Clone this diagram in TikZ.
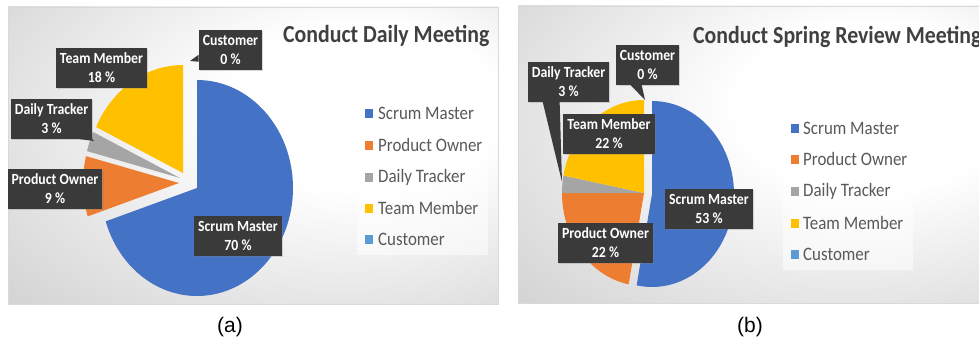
\documentclass[tikz,border=0pt]{standalone}
\usepackage{fontspec}
\setmainfont{Carlito}[FakeStretch=0.89]
\newfontfamily\captionfont{Liberation Sans}
\usetikzlibrary{shadows}

\definecolor{smblue}{HTML}{4472C4}
\definecolor{poorange}{HTML}{ED7D31}
\definecolor{dtgray}{HTML}{A5A5A5}
\definecolor{tmgold}{HTML}{FFC000}
\definecolor{cublue}{HTML}{5B9BD5}
\definecolor{labelfill}{HTML}{3A3A3A}
\definecolor{titlegray}{HTML}{404040}
\definecolor{legendgray}{HTML}{595959}

\pgfdeclareradialshading{panelbg}{\pgfpoint{14bp}{10bp}}{color(0bp)=(white); color(14bp)=(white); color(54bp)=(black!24); color(74bp)=(black!28)}

\tikzset{
  panel/.style={draw=black!15, line width=0.6pt, shading=panelbg},
  charttitle/.style={font=\fontsize{24.5}{28}\selectfont\bfseries, text=titlegray, inner sep=0pt, anchor=base west},
  legendbox/.style={fill=white, fill opacity=0.55},
  legendkey/.style={minimum width=8pt, minimum height=9pt, inner sep=0pt},
  legendtext/.style={font=\fontsize{19}{22}\selectfont, text=legendgray, anchor=west, inner sep=0pt},
  datalabel/.style={fill=labelfill, text=white, font=\fontsize{15.5}{19}\selectfont\bfseries, align=center, minimum height=40pt, inner xsep=4pt, drop shadow={opacity=0.3, shadow xshift=1.2pt, shadow yshift=-1.2pt}},
  labeltail/.style={fill=labelfill},
  subcaption/.style={font=\captionfont\fontsize{21}{24}\selectfont, inner sep=0pt}
}

\begin{document}
\begin{tikzpicture}[x=1pt,y=1pt]
\useasboundingbox (0,0) rectangle (979,341);

\shade[panel] (8,37) rectangle (498,334);

\fill[smblue] (197,153) -- +(90:96pt and 108pt) arc[start angle=90, end angle=-162, x radius=96pt, y radius=108pt] -- cycle;
\fill[poorange] (179,158) -- +(198:96pt and 108pt) arc[start angle=198, end angle=165.6, x radius=96pt, y radius=108pt] -- cycle;
\fill[dtgray] (180,163) -- +(165.6:96pt and 108pt) arc[start angle=165.6, end angle=154.8, x radius=96pt, y radius=108pt] -- cycle;
\fill[tmgold] (183,168) -- +(154.8:96pt and 108pt) arc[start angle=154.8, end angle=90, x radius=96pt, y radius=108pt] -- cycle;

\node[charttitle] (titleA) at (283,299) {Conduct Daily Meeting};

\fill[legendbox] (357,86) rectangle (488,243);
\node[legendkey, fill=smblue] (keySmA) at (369,228) {};
\node[legendkey, fill=poorange] (keyPoA) at (369,196) {};
\node[legendkey, fill=dtgray] (keyDtA) at (369,164) {};
\node[legendkey, fill=tmgold] (keyTmA) at (369,133) {};
\node[legendkey, fill=cublue] (keyCuA) at (369,102) {};
\node[legendtext] at (378,228) {Scrum Master};
\node[legendtext] at (378,196) {Product Owner};
\node[legendtext] at (378,164) {Daily Tracker};
\node[legendtext] at (378,133) {Team Member};
\node[legendtext] at (378,102) {Customer};

\node[datalabel] (cuA) at (230.5,291.5) {Customer\\0 \%};
\node[datalabel] (tmA) at (101.5,273) {Team Member\\18 \%};
\node[datalabel] (dtA) at (51.5,222) {Daily Tracker\\3 \%};
\node[datalabel] (poA) at (55,152.5) {Product Owner\\9 \%};
\node[datalabel] (smA) at (238,105) {Scrum Master\\70 \%};
\coordinate (cuAtip) at (190,280);
\coordinate (dtAtip) at (94,200);
\fill[labeltail] ([yshift=15pt]cuA.south west) -- (cuAtip) -- ([yshift=8pt]cuA.south west) -- cycle;
\fill[labeltail] ([xshift=-12pt]dtA.south east) -- (dtAtip) -- (dtA.south east) -- cycle;

\node[subcaption] (capA) at (230,14) {(a)};

\begin{scope}
\clip (510,0) rectangle (979,341);
\shade[panel] (518,38) rectangle (1008,335);
\node[charttitle] (titleB) at (693,298) {Conduct Spring Review Meeting};
\end{scope}

\fill[smblue] (652,147) -- +(90:82pt and 93pt) arc[start angle=90, end angle=-100.8, x radius=82pt, y radius=93pt] -- cycle;
\fill[poorange] (644,148) -- +(259.2:82pt and 93pt) arc[start angle=259.2, end angle=180, x radius=82pt, y radius=93pt] -- cycle;
\fill[dtgray] (644,148) -- +(180:82pt and 93pt) arc[start angle=180, end angle=169.2, x radius=82pt, y radius=93pt] -- cycle;
\fill[tmgold] (644,148) -- +(169.2:82pt and 93pt) arc[start angle=169.2, end angle=90, x radius=82pt, y radius=93pt] -- cycle;

\fill[legendbox] (783,71) rectangle (913,228);
\node[legendkey, fill=smblue] (keySmB) at (795,213) {};
\node[legendkey, fill=poorange] (keyPoB) at (795,182) {};
\node[legendkey, fill=dtgray] (keyDtB) at (795,150) {};
\node[legendkey, fill=tmgold] (keyTmB) at (795,118) {};
\node[legendkey, fill=cublue] (keyCuB) at (795,87) {};
\node[legendtext] at (803,213) {Scrum Master};
\node[legendtext] at (803,182) {Product Owner};
\node[legendtext] at (803,150) {Daily Tracker};
\node[legendtext] at (803,118) {Team Member};
\node[legendtext] at (803,87) {Customer};

\coordinate (cuBtip) at (645,241);
\coordinate (dtBtip) at (562,159);
\node[datalabel] (cuB) at (647.5,276) {Customer\\0 \%};
\node[datalabel] (dtB) at (568.5,259.5) {Daily Tracker\\3 \%};
\fill[labeltail] ([xshift=15pt]cuB.south west) -- (cuBtip) -- ([xshift=26pt]cuB.south west) -- cycle;
\fill[labeltail] ([xshift=15pt]dtB.south west) -- (dtBtip) -- ([xshift=32pt]dtB.south west) -- cycle;
\node[datalabel] (tmB) at (609,207.5) {Team Member\\22 \%};
\node[datalabel] (smB) at (709,132.5) {Scrum Master\\53 \%};
\node[datalabel] (poB) at (605.5,98) {Product Owner\\22 \%};

\node[subcaption] (capB) at (750,14) {(b)};
\end{tikzpicture}
\end{document}
